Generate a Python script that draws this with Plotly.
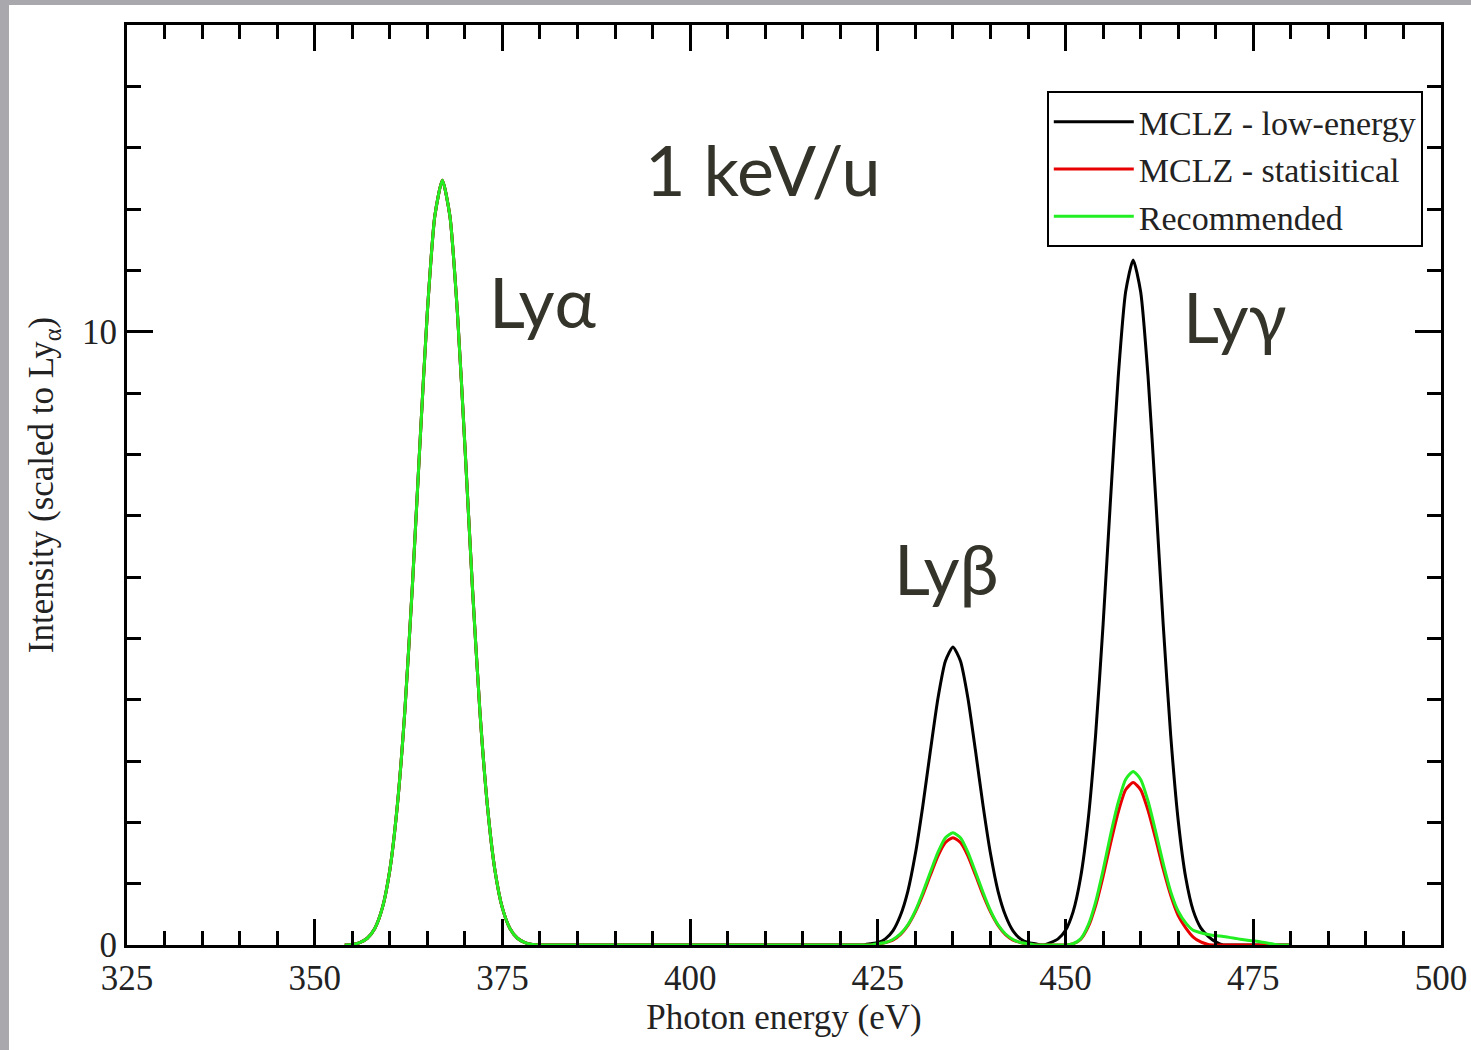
import plotly.graph_objects as go

# Photon energy grid (eV), 1 eV bins from 354 to 480
energy = list(range(354, 481))

# Ly-alpha line shape (identical for all three models), 354..379 eV
ly_alpha = [0, 0.01, 0.04, 0.11, 0.27, 0.60, 1.22, 2.27, 3.81, 5.84, 8.14, 10.32, 11.89,
            12.47,
            11.89, 10.32, 8.14, 5.84, 3.81, 2.27, 1.22, 0.60, 0.27, 0.11, 0.04, 0.01]

# MCLZ - low-energy
low_energy = (ly_alpha + [0] * 44 +
              [0.02, 0.04, 0.10, 0.23, 0.48, 0.88, 1.49, 2.28, 3.17, 4.02, 4.63,
               4.86,
               4.63, 4.02, 3.17, 2.28, 1.49, 0.88, 0.48, 0.23, 0.10, 0.04, 0.02] +
              [0] +
              [0.04, 0.10, 0.24, 0.54, 1.10, 2.03, 3.42, 5.23, 7.29, 9.24, 10.65,
               11.17,
               10.65, 9.24, 7.29, 5.23, 3.42, 2.03, 1.10, 0.56, 0.28, 0.14, 0.05] +
              [0] * 10)

# MCLZ - statistical
statistical = (ly_alpha + [0] * 45 +
               [0.01, 0.04, 0.08, 0.17, 0.32, 0.54, 0.82, 1.14, 1.45, 1.67,
                1.75,
                1.67, 1.45, 1.14, 0.82, 0.54, 0.32, 0.17, 0.08, 0.04, 0.01] +
               [0] * 5 +
               [0.02, 0.09, 0.29, 0.64, 1.12, 1.66, 2.16, 2.53,
                2.65,
                2.53, 2.19, 1.73, 1.24, 0.81, 0.48, 0.28, 0.13, 0.05, 0.01] +
               [0] * 11)

# Recommended
recommended = (ly_alpha + [0] * 45 +
               [0.02, 0.04, 0.09, 0.18, 0.33, 0.56, 0.86, 1.19, 1.51, 1.75,
                1.83,
                1.75, 1.51, 1.19, 0.86, 0.56, 0.33, 0.18, 0.09, 0.04, 0.02] +
               [0] * 5 +
               [0.02, 0.10, 0.32, 0.70, 1.22, 1.80, 2.32, 2.70,
                2.83,
                2.70, 2.34, 1.85, 1.33, 0.87, 0.55, 0.36, 0.24, 0.20, 0.17, 0.15,
                0.14, 0.12, 0.10, 0.08, 0.07, 0.05, 0.03, 0.01] +
               [0] * 2)

series_names = ["MCLZ - low-energy", "MCLZ - statisitical", "Recommended"]
x_ticks = [325, 350, 375, 400, 425, 450, 475, 500]
y_ticks = [0, 10]
line_labels = ["Lyα", "Lyβ", "Lyγ"]
line_label_pos = [(380.4, 10.5), (434.2, 6.15), (472.6, 10.25)]
beam_label = "1 keV/u"

fig = go.Figure()
colors = ["#000000", "#e80000", "#22ee22"]
for name, ys, c in zip(series_names, [low_energy, statistical, recommended], colors):
    fig.add_trace(go.Scatter(x=energy, y=ys, mode="lines", name=name,
                             line=dict(color=c, width=3, shape="spline", smoothing=0.6)))

serif = "Liberation Serif"
axis_common = dict(showline=True, linewidth=3, linecolor="black", mirror="ticks",
                   ticks="inside", tickwidth=2.5, tickcolor="black", ticklen=26,
                   showgrid=False, zeroline=False, automargin=False,
                   tickfont=dict(family=serif, size=35, color="#222"))

fig.update_xaxes(range=[325, 500], tickvals=x_ticks,
                 minor=dict(dtick=5, tick0=325, ticks="inside", ticklen=14,
                            tickwidth=2.5, tickcolor="black", showgrid=False),
                 title=dict(text="Photon energy (eV)",
                            font=dict(family=serif, size=35, color="#222"), standoff=6),
                 **axis_common)
fig.update_yaxes(range=[0, 15], tickvals=y_ticks,
                 minor=dict(dtick=1, tick0=0, ticks="inside", ticklen=14,
                            tickwidth=2.5, tickcolor="black", showgrid=False),
                 title=dict(text="Intensity (scaled to Ly<sub>α</sub>)",
                            font=dict(family=serif, size=35, color="#222"), standoff=18),
                 **axis_common)

ann_font = dict(family="Lato", size=70, color="#34342a")
annotations = [dict(x=409.7, y=12.66, text=beam_label, showarrow=False,
                    xref="x", yref="y", font=ann_font)]
for t, (ax, ay) in zip(line_labels, line_label_pos):
    annotations.append(dict(x=ax, y=ay, text=t, showarrow=False, xref="x", yref="y",
                            font=ann_font))

shapes = [
    dict(type="rect", xref="paper", yref="paper", x0=-0.0967, x1=-0.0898,
         y0=-0.115, y1=1.028, fillcolor="#a9a9ad", line=dict(width=0), layer="below"),
    dict(type="rect", xref="paper", yref="paper", x0=-0.0967, x1=1.023,
         y0=1.0217, y1=1.028, fillcolor="#a9a9ad", line=dict(width=0), layer="below"),
]

fig.update_layout(
    width=1471, height=1050,
    margin=dict(l=127, r=30, t=25, b=105),
    paper_bgcolor="white", plot_bgcolor="white",
    annotations=annotations, shapes=shapes,
    legend=dict(x=0.700, y=0.928, xanchor="left", yanchor="top",
                bgcolor="white", bordercolor="black", borderwidth=2,
                font=dict(family=serif, size=34, color="#222"),
                tracegroupgap=0, itemwidth=80),
    showlegend=True,
)

fig.write_html("out.html")
